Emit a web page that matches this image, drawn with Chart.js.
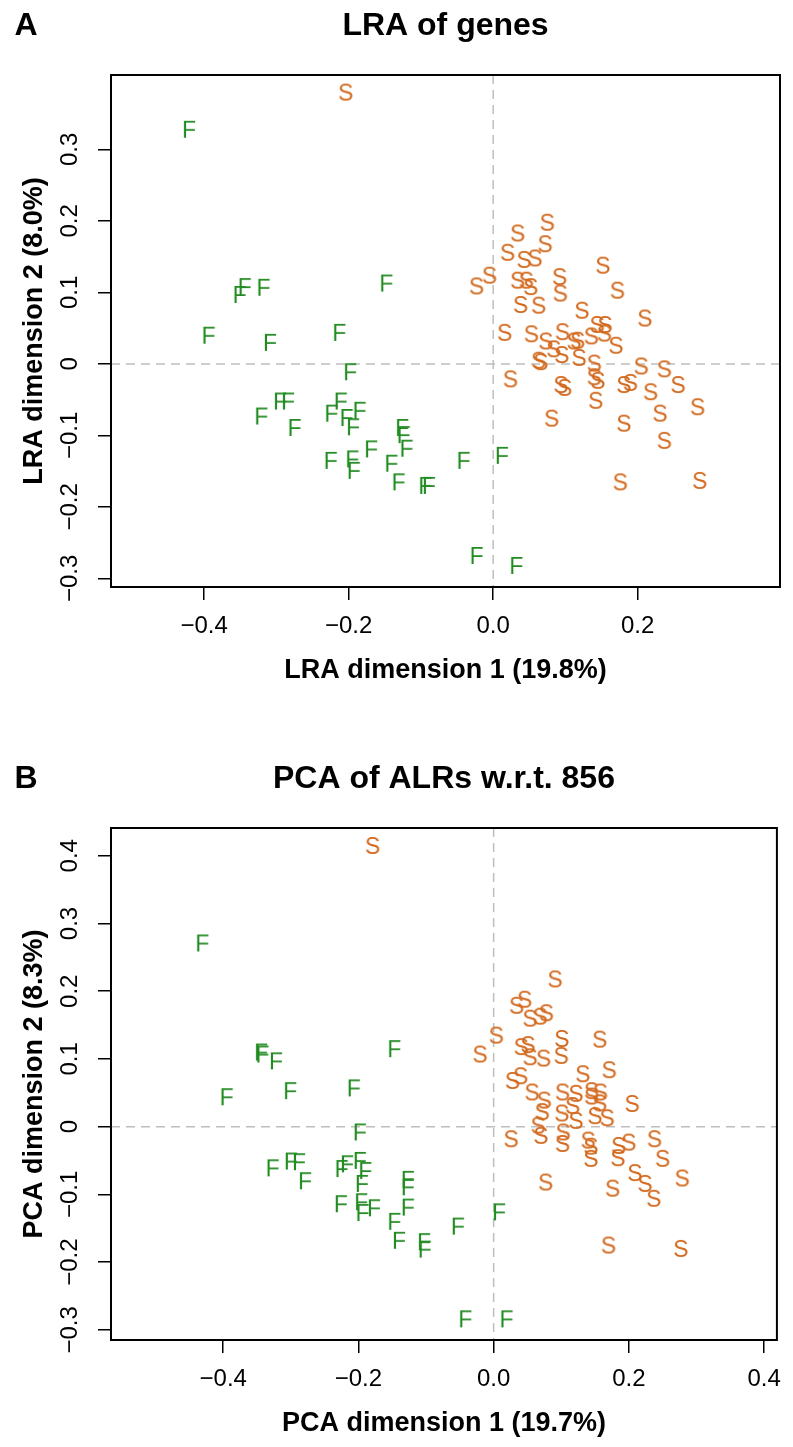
<!DOCTYPE html>
<html>
<head>
<meta charset="utf-8">
<script src="https://cdn.jsdelivr.net/npm/chart.js@4"></script>
<style>
  body { margin: 0; background: #fff; }
  canvas { display: block; }
</style>
</head>
<body>
<canvas id="chartA" width="793" height="723"></canvas>
<canvas id="chartB" width="793" height="724"></canvas>
<script>
// ---- panel A: LRA of genes ----
const lraFX = [-0.421,-0.344,-0.351,-0.318,-0.148,-0.394,-0.309,-0.213,-0.198,-0.295,-0.284,-0.321,-0.275,-0.211,-0.224,-0.203,-0.185,-0.194,-0.126,-0.124,-0.120,-0.169,-0.225,-0.195,-0.193,-0.141,-0.131,-0.094,-0.089,-0.041,0.012,-0.023,0.032];
const lraFY = [0.326,0.106,0.095,0.105,0.111,0.038,0.028,0.042,-0.013,-0.054,-0.054,-0.075,-0.091,-0.054,-0.071,-0.077,-0.067,-0.090,-0.091,-0.101,-0.120,-0.121,-0.137,-0.135,-0.151,-0.141,-0.167,-0.172,-0.172,-0.137,-0.130,-0.270,-0.284];
const lraSX = [-0.204,0.075,0.034,0.072,0.020,0.043,0.058,0.152,-0.005,-0.023,0.034,0.046,0.052,0.092,0.093,0.172,0.038,0.063,0.123,0.210,0.016,0.053,0.096,0.073,0.084,0.063,0.066,0.095,0.112,0.117,0.119,0.136,0.144,0.155,0.154,0.170,0.140,0.140,0.145,0.142,0.205,0.237,0.256,0.181,0.190,0.218,0.094,0.099,0.024,0.283,0.231,0.081,0.181,0.237,0.176,0.286];
const lraSY = [0.378,0.196,0.181,0.166,0.154,0.144,0.146,0.136,0.122,0.107,0.115,0.115,0.106,0.120,0.097,0.101,0.081,0.080,0.073,0.062,0.042,0.040,0.043,0.030,0.019,0.003,0.001,0.011,0.030,0.031,0.007,0.037,0.053,0.053,0.041,0.024,-0.001,-0.020,-0.025,-0.053,-0.005,-0.009,-0.031,-0.031,-0.028,-0.041,-0.031,-0.035,-0.023,-0.062,-0.071,-0.078,-0.085,-0.109,-0.167,-0.165];
const lraXTicks = [-0.4, -0.2, 0, 0.2];
const lraXTickLabels = ['\u22120.4', '\u22120.2', '0.0', '0.2'];
const lraYTicks = [-0.3, -0.2, -0.1, 0, 0.1, 0.2, 0.3];
const lraYTickLabels = ['\u22120.3', '\u22120.2', '\u22120.1', '0', '0.1', '0.2', '0.3'];

// ---- panel B: PCA of ALRs ----
const pcaFX = [-0.431,-0.344,-0.342,-0.322,-0.147,-0.395,-0.301,-0.207,-0.198,-0.327,-0.300,-0.288,-0.279,-0.225,-0.217,-0.198,-0.190,-0.195,-0.127,-0.127,-0.127,-0.226,-0.196,-0.194,-0.177,-0.147,-0.140,-0.103,-0.102,-0.053,0.008,-0.042,0.019];
const pcaFY = [0.269,0.108,0.105,0.095,0.113,0.042,0.051,0.055,-0.010,-0.063,-0.053,-0.054,-0.082,-0.064,-0.057,-0.052,-0.067,-0.086,-0.080,-0.091,-0.121,-0.116,-0.113,-0.129,-0.122,-0.142,-0.170,-0.172,-0.183,-0.149,-0.128,-0.286,-0.286];
const pcaSX = [-0.179,0.091,0.046,0.034,0.054,0.069,0.078,0.004,-0.020,0.041,0.051,0.054,0.074,0.101,0.100,0.157,0.132,0.171,0.028,0.040,0.057,0.075,0.072,0.102,0.122,0.117,0.101,0.122,0.145,0.145,0.158,0.157,0.150,0.168,0.205,0.066,0.070,0.026,0.103,0.102,0.140,0.144,0.144,0.185,0.200,0.184,0.238,0.250,0.209,0.224,0.237,0.279,0.077,0.176,0.170,0.277];
const pcaSY = [0.413,0.216,0.186,0.177,0.158,0.161,0.166,0.133,0.105,0.116,0.119,0.101,0.099,0.128,0.103,0.127,0.076,0.082,0.066,0.073,0.049,0.037,0.020,0.049,0.047,0.029,0.018,0.007,0.051,0.043,0.049,0.033,0.014,0.011,0.032,0.000,-0.015,-0.020,-0.010,-0.027,-0.022,-0.031,-0.049,-0.030,-0.025,-0.048,-0.020,-0.049,-0.070,-0.086,-0.108,-0.078,-0.084,-0.093,-0.177,-0.182];
const pcaXTicks = [-0.4, -0.2, 0, 0.2, 0.4];
const pcaXTickLabels = ['\u22120.4', '\u22120.2', '0.0', '0.2', '0.4'];
const pcaYTicks = [-0.3, -0.2, -0.1, 0, 0.1, 0.2, 0.3, 0.4];
const pcaYTickLabels = ['\u22120.3', '\u22120.2', '\u22120.1', '0', '0.1', '0.2', '0.3', '0.4'];

const FONT = '"Liberation Sans", Arial, Helvetica, sans-serif';
const GREEN = '#228B22';
const ORANGE = '#D2691E';

// letters used as plotting symbols
function letterMarker(ch, color) {
  const c = document.createElement('canvas');
  c.width = 28; c.height = 28;
  const g = c.getContext('2d');
  g.font = '23px ' + FONT;
  g.fillStyle = color;
  g.textAlign = 'center';
  g.textBaseline = 'middle';
  g.fillText(ch, 14, 15);
  return c;
}
const markF = letterMarker('F', GREEN);
const markS = letterMarker('S', ORANGE);

function toPoints(xs, ys) {
  return xs.map((x, i) => ({ x: x, y: ys[i] }));
}

const decor = {
  id: 'decor',
  beforeDatasetsDraw(chart) {
    const ctx = chart.ctx, a = chart.chartArea;
    const x0 = chart.scales.x.getPixelForValue(0);
    const y0 = chart.scales.y.getPixelForValue(0);
    ctx.save();
    ctx.strokeStyle = '#BEBEBE';
    ctx.lineWidth = 1.5;
    ctx.setLineDash([9, 6]);
    ctx.beginPath();
    ctx.moveTo(x0, a.top); ctx.lineTo(x0, a.bottom);
    ctx.moveTo(a.left, y0); ctx.lineTo(a.right, y0);
    ctx.stroke();
    ctx.restore();
  },
  afterDraw(chart, args, o) {
    const ctx = chart.ctx, a = chart.chartArea;
    const cx = (a.left + a.right) / 2, cy = (a.top + a.bottom) / 2;
    ctx.save();
    ctx.strokeStyle = '#000';
    ctx.lineWidth = 2;
    ctx.strokeRect(a.left, a.top, a.right - a.left, a.bottom - a.top);

    ctx.fillStyle = '#000';
    ctx.textAlign = 'center';
    ctx.textBaseline = 'middle';
    ctx.font = 'bold 32px ' + FONT;
    ctx.fillText(o.letter, 26, a.top - 49);
    ctx.fillText(o.title, cx, a.top - 49);

    ctx.font = 'bold 27px ' + FONT;
    ctx.fillText(o.xTitle, cx, a.bottom + 84);

    ctx.save();
    ctx.translate(35, cy);
    ctx.rotate(-Math.PI / 2);
    ctx.fillText(o.yTitle, 0, 0);
    ctx.restore();

    ctx.font = '24px ' + FONT;
    const ys = chart.scales.y;
    o.yTicks.forEach((v, i) => {
      ctx.save();
      ctx.translate(70, ys.getPixelForValue(v));
      ctx.rotate(-Math.PI / 2);
      ctx.fillText(o.yTickLabels[i], 0, 0);
      ctx.restore();
    });
    ctx.restore();
  }
};

function makePanel(id, p) {
  const cv = document.getElementById(id);
  return new Chart(cv, {
    type: 'scatter',
    data: {
      datasets: [
        { label: 'F', data: toPoints(p.fx, p.fy), pointStyle: markF, pointRadius: 12 },
        { label: 'S', data: toPoints(p.sx, p.sy), pointStyle: markS, pointRadius: 12 }
      ]
    },
    options: {
      responsive: false,
      animation: false,
      layout: { padding: { top: p.top, right: 10, left: 0, bottom: 0 } },
      plugins: {
        legend: { display: false },
        tooltip: { enabled: false },
        decor: {
          letter: p.letter, title: p.title, xTitle: p.xTitle, yTitle: p.yTitle,
          yTicks: p.yTicks, yTickLabels: p.yTickLabels
        }
      },
      scales: {
        x: {
          type: 'linear', min: p.xMin, max: p.xMax,
          afterBuildTicks: s => { s.ticks = p.xTicks.map(v => ({ value: v })); },
          afterFit: s => { s.height = cv.height - p.bottom; },
          border: { display: false },
          grid: { drawOnChartArea: false, drawTicks: true, tickLength: 13, color: '#000', lineWidth: 1.5 },
          ticks: {
            color: '#000', font: { family: FONT, size: 24 }, padding: 12, maxRotation: 0,
            callback: (v, i) => p.xTickLabels[i]
          }
        },
        y: {
          type: 'linear', min: p.yMin, max: p.yMax,
          afterBuildTicks: s => { s.ticks = p.yTicks.map(v => ({ value: v })); },
          afterFit: s => { s.width = 111; },
          border: { display: false },
          grid: { drawOnChartArea: false, drawTicks: true, tickLength: 13, color: '#000', lineWidth: 1.5 },
          ticks: { display: false }
        }
      }
    },
    plugins: [decor]
  });
}

makePanel('chartA', {
  letter: 'A', title: 'LRA of genes',
  xTitle: 'LRA dimension 1 (19.8%)', yTitle: 'LRA dimension 2 (8.0%)',
  fx: lraFX, fy: lraFY, sx: lraSX, sy: lraSY,
  xMin: -0.529, xMax: 0.397, yMin: -0.312, yMax: 0.404,
  xTicks: lraXTicks, xTickLabels: lraXTickLabels,
  yTicks: lraYTicks, yTickLabels: lraYTickLabels,
  top: 75, bottom: 587
});

makePanel('chartB', {
  letter: 'B', title: 'PCA of ALRs w.r.t. 856',
  xTitle: 'PCA dimension 1 (19.7%)', yTitle: 'PCA dimension 2 (8.3%)',
  fx: pcaFX, fy: pcaFY, sx: pcaSX, sy: pcaSY,
  xMin: -0.566, xMax: 0.419, yMin: -0.315, yMax: 0.441,
  xTicks: pcaXTicks, xTickLabels: pcaXTickLabels,
  yTicks: pcaYTicks, yTickLabels: pcaYTickLabels,
  top: 105, bottom: 617
});
</script>
</body>
</html>
